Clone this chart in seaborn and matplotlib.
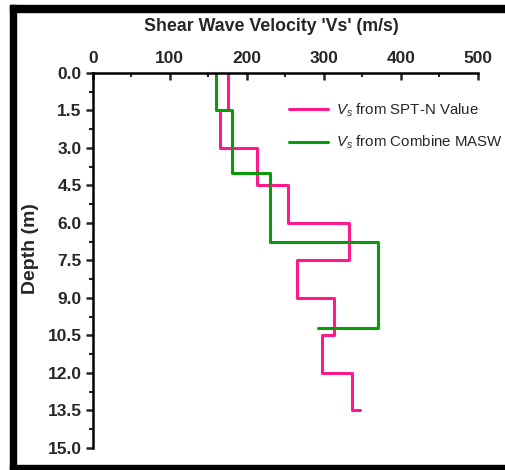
import matplotlib
matplotlib.use("Agg")
import matplotlib.pyplot as plt
from matplotlib.patches import Rectangle
from matplotlib.ticker import MultipleLocator, FormatStrFormatter
import numpy as np
import pandas as pd
import seaborn as sns

# Layer boundaries (m) and shear wave velocity per layer (m/s)
spt_depth_top = [0.0, 1.5, 3.0, 4.5, 6.0, 7.5, 9.0, 10.5, 12.0]
spt_depth_bot = [1.5, 3.0, 4.5, 6.0, 7.5, 9.0, 10.5, 12.0, 13.5]
spt_vs = [175, 165, 213, 254, 333, 265, 313, 297, 336]
spt_end_vs = 347

masw_depth_top = [0.0, 1.5, 4.0, 6.75]
masw_depth_bot = [1.5, 4.0, 6.75, 10.2]
masw_vs = [160, 181, 230, 370]
masw_end_vs = 292

x_ticks = [0, 100, 200, 300, 400, 500]
y_ticks = [0.0, 1.5, 3.0, 4.5, 6.0, 7.5, 9.0, 10.5, 12.0, 13.5, 15.0]


def step_profile(tops, bots, vs, end_vs):
    xs, ys = [], []
    for t, b, v in zip(tops, bots, vs):
        xs += [v, v]
        ys += [t, b]
    xs.append(end_vs)
    ys.append(bots[-1])
    return pd.DataFrame({"vs": xs, "depth": ys})


sns.set_style("white")
plt.rcParams["font.family"] = ["Liberation Sans", "DejaVu Sans"]
plt.rcParams["mathtext.fontset"] = "custom"
plt.rcParams["mathtext.it"] = "Liberation Sans:italic"
plt.rcParams["mathtext.rm"] = "Liberation Sans"

fig = plt.figure(figsize=(5.06, 4.70), dpi=100)
ax = fig.add_axes([0.1832, 0.0468, 0.7615, 0.798])

spt = step_profile(spt_depth_top, spt_depth_bot, spt_vs, spt_end_vs)
masw = step_profile(masw_depth_top, masw_depth_bot, masw_vs, masw_end_vs)

sns.lineplot(data=spt, x="vs", y="depth", sort=False, estimator=None,
             color="#ff1a8c", lw=2.2, ax=ax, label=r"$V_s$ from SPT-N Value")
sns.lineplot(data=masw, x="vs", y="depth", sort=False, estimator=None,
             color="#0a9a0a", lw=2.2, ax=ax, label=r"$V_s$ from Combine MASW")

ax.set_xlim(0, 500)
ax.set_ylim(15, 0)
ax.xaxis.tick_top()
ax.xaxis.set_label_position("top")
ax.set_xticks(x_ticks)
ax.set_yticks(y_ticks)
ax.yaxis.set_major_formatter(FormatStrFormatter("%.1f"))
ax.xaxis.set_minor_locator(MultipleLocator(50))
ax.yaxis.set_minor_locator(MultipleLocator(0.75))

for side in ["right", "bottom"]:
    ax.spines[side].set_visible(False)
for side in ["top", "left"]:
    ax.spines[side].set_linewidth(1.8)
    ax.spines[side].set_color("black")

ax.tick_params(axis="x", which="major", direction="in", length=5, width=1.8,
               pad=5, labelsize=12.5, top=True, bottom=False)
ax.tick_params(axis="x", which="minor", direction="in", length=3, width=1.5,
               top=True, bottom=False)
ax.tick_params(axis="y", which="major", direction="out", length=5, width=1.8,
               pad=3, labelsize=12.5, left=True)
ax.tick_params(axis="y", which="minor", direction="out", length=3, width=1.5,
               left=True)
for lab in ax.get_xticklabels() + ax.get_yticklabels():
    lab.set_fontweight("bold")

ax.set_xlabel("Shear Wave Velocity 'Vs' (m/s)", fontsize=12.8,
              fontweight="bold", va="center")
ax.xaxis.set_label_coords(0.463, 1.1227)
ax.set_ylabel("Depth (m)", fontsize=14, fontweight="bold", va="center")
ax.yaxis.set_label_coords(-0.1627, 0.533)

leg = ax.legend(loc="upper left", bbox_to_anchor=(0.475, 0.96), frameon=False,
                fontsize=10.8, handlelength=2.6, handletextpad=0.5,
                labelspacing=1.0)

# Black frame around the figure
W, H = 506, 470
def frame(x0, y0, x1, y1):
    fig.patches.append(Rectangle((x0 / W, 1 - y1 / H), (x1 - x0) / W,
                                 (y1 - y0) / H, transform=fig.transFigure,
                                 color="black", zorder=10))
frame(10, 5, 506, 12)
frame(10, 5, 16, 470)
frame(10, 465, 506, 470)

fig.savefig("out.png", dpi=100)
